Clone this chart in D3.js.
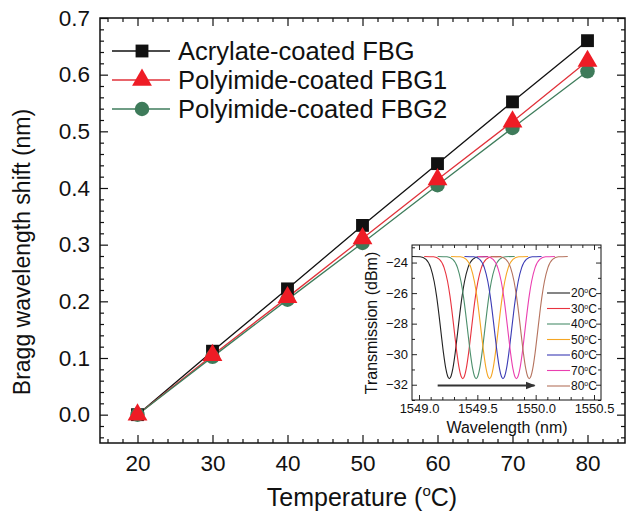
<!DOCTYPE html>
<html>
<head>
<meta charset="utf-8">
<script src="https://cdn.jsdelivr.net/npm/d3@7"></script>
<style>
  body { margin: 0; background: #fff; }
  svg { font-family: Arial, "Liberation Sans", sans-serif; }
</style>
</head>
<body>
<svg id="chart" width="626" height="516"></svg>
<script>
// main plot data
const temps = [20, 30, 40, 50, 60, 70, 80];
const acrylate = [0, 0.112, 0.222, 0.334, 0.443, 0.552, 0.660];
const polyimide1 = [0, 0.105, 0.207, 0.311, 0.415, 0.517, 0.624];
const polyimide2 = [0, 0.102, 0.203, 0.303, 0.405, 0.506, 0.606];
const seriesNames = ['Acrylate-coated FBG', 'Polyimide-coated FBG1', 'Polyimide-coated FBG2'];
const xTicks = [20, 30, 40, 50, 60, 70, 80];
const yTicks = [0.0, 0.1, 0.2, 0.3, 0.4, 0.5, 0.6, 0.7];

const dipOffset = [-0.33, -0.25, -0.2, -0.16, -0.13, -0.11, -0.09, -0.07, -0.05, -0.03, -0.015, 0,
                   0.015, 0.03, 0.05, 0.07, 0.09, 0.11, 0.13, 0.16, 0.2, 0.25, 0.33];
const dipLevel = [-23.6, -23.62, -23.79, -24.33, -25.24, -26.17, -27.34, -28.65, -29.93, -30.95, -31.43, -31.6,
                  -31.43, -30.95, -29.93, -28.65, -27.34, -26.17, -25.24, -24.33, -23.79, -23.62, -23.6];
const specTemps = ['20', '30', '40', '50', '60', '70', '80'];
const dipCentre = [1549.26, 1549.375, 1549.49, 1549.605, 1549.72, 1549.835, 1549.945];
const insetXTicks = [1549.0, 1549.5, 1550.0, 1550.5];
const insetYTicks = [-32, -30, -28, -26, -24];

const svg = d3.select('#chart');

const x = d3.scaleLinear().domain([15, 85]).range([100, 625]);
const y = d3.scaleLinear().domain([-0.05, 0.7]).range([443, 18]);

function fmt1(d) { return d3.format('.1f')(d); }

// ticks, all pointing inward
function addTicks(g, scale, side, values, size, fmt, fontSize, pad) {
  let ax;
  if (side === 'bottom') ax = d3.axisBottom(scale);
  else if (side === 'top') ax = d3.axisTop(scale);
  else if (side === 'left') ax = d3.axisLeft(scale);
  else ax = d3.axisRight(scale);
  ax.tickValues(values).tickSizeInner(-size).tickSizeOuter(0).tickPadding(pad || 4)
    .tickFormat(fmt || (() => ''));
  g.call(ax);
  g.select('.domain').remove();
  g.selectAll('line').attr('stroke', '#111').attr('stroke-width', 1.2);
  g.selectAll('text').attr('fill', '#111').style('font-size', (fontSize || 10) + 'px')
    .attr('font-family', 'Arial, "Liberation Sans", sans-serif');
}

const xMinor = d3.range(16, 85, 2).filter(v => v % 10 !== 0);
const yMinor = d3.range(-0.04, 0.7, 0.02).map(v => +v.toFixed(2)).filter(v => Math.abs(v * 10 - Math.round(v * 10)) > 1e-6);

const gBottom = svg.append('g').attr('transform', 'translate(0,443)');
addTicks(gBottom.append('g'), x, 'bottom', xTicks, 8, d3.format('d'), 22.5, 12);
addTicks(gBottom.append('g'), x, 'bottom', xMinor, 4);
const gTop = svg.append('g').attr('transform', 'translate(0,18)');
addTicks(gTop.append('g'), x, 'top', xTicks, 8);
addTicks(gTop.append('g'), x, 'top', xMinor, 4);
const gLeft = svg.append('g').attr('transform', 'translate(100,0)');
addTicks(gLeft.append('g'), y, 'left', yTicks, 8, fmt1, 22.5, 10);
addTicks(gLeft.append('g'), y, 'left', yMinor, 4);
const gRight = svg.append('g').attr('transform', 'translate(625,0)');
addTicks(gRight.append('g'), y, 'right', yTicks, 8);
addTicks(gRight.append('g'), y, 'right', yMinor, 4);

svg.append('rect')
  .attr('x', 100).attr('y', 18).attr('width', 525).attr('height', 425)
  .attr('fill', 'none').attr('stroke', '#111').attr('stroke-width', 1.5);

// axis titles
svg.append('text')
  .attr('transform', 'translate(30,252) rotate(-90)')
  .attr('text-anchor', 'middle')
  .style('font-size', '23px').attr('fill', '#111')
  .text('Bragg wavelength shift (nm)');

const xt = svg.append('text')
  .attr('x', 362).attr('y', 506)
  .attr('text-anchor', 'middle')
  .style('font-size', '25px').attr('fill', '#111');
xt.append('tspan').text('Temperature (');
xt.append('tspan').text('o').style('font-size', '15px').attr('dy', -10);
xt.append('tspan').text('C)').attr('dy', 10);

// series
const series = [
  { name: seriesNames[0], values: acrylate, line: '#111', fill: '#111', symbol: d3.symbolSquare, size: 165 },
  { name: seriesNames[1], values: polyimide1, line: '#e0323a', fill: '#ee1c25', symbol: d3.symbolTriangle, size: 170 },
  { name: seriesNames[2], values: polyimide2, line: '#3f7d5c', fill: '#3e7b5a', symbol: d3.symbolCircle, size: 165 }
];

const line = d3.line().x((d, i) => x(temps[i])).y(d => y(d));

svg.selectAll('.series-line')
  .data(series)
  .enter()
  .append('path')
  .attr('class', 'series-line')
  .attr('d', s => line(s.values))
  .attr('fill', 'none')
  .attr('stroke', s => s.line)
  .attr('stroke-width', 1.3);

// markers: black, then green, red on top
[series[0], series[2], series[1]].forEach(s => {
  svg.append('g').selectAll('path')
    .data(s.values)
    .enter()
    .append('path')
    .attr('transform', (d, i) => `translate(${x(temps[i])},${y(d)})`)
    .attr('d', d3.symbol().type(s.symbol).size(s.size))
    .attr('fill', s.fill);
});

// legend
const legendRows = [51, 80, 109];
series.forEach((s, i) => {
  const g = svg.append('g').attr('transform', `translate(0,${legendRows[i]})`);
  g.append('line').attr('x1', 112).attr('x2', 170).attr('y1', 0).attr('y2', 0)
    .attr('stroke', s.line).attr('stroke-width', 1.3);
  g.append('path').attr('transform', 'translate(142,0)')
    .attr('d', d3.symbol().type(s.symbol).size(s.size)).attr('fill', s.fill);
  g.append('text').attr('x', 178).attr('y', 0).attr('dy', '0.36em')
    .style('font-size', '25.5px').attr('fill', '#111').text(s.name);
});

// ---------- inset ----------
const ix = d3.scaleLinear().domain([1548.94, 1550.56]).range([412, 601]);
const iy = d3.scaleLinear().domain([-33.0, -22.85]).range([400, 245]);
const specColors = ['#222222', '#e8333f', '#4c8f6c', '#f5a623', '#3b3bb5', '#ea3fb0', '#b5735e'];

const inset = svg.append('g').attr('class', 'inset');
inset.append('rect').attr('x', 412).attr('y', 245).attr('width', 189).attr('height', 155).attr('fill', '#fff');

inset.append('clipPath').attr('id', 'inset-clip')
  .append('rect').attr('x', 412).attr('y', 245).attr('width', 189).attr('height', 155);

const specLine = d3.line().x(d => ix(d[0])).y(d => iy(d[1])).curve(d3.curveMonotoneX);
inset.append('g').attr('clip-path', 'url(#inset-clip)')
  .selectAll('path')
  .data(dipCentre)
  .enter()
  .append('path')
  .attr('d', c => specLine(dipOffset.map((o, i) => [c + o, dipLevel[i]])))
  .attr('fill', 'none')
  .attr('stroke', (c, i) => specColors[i])
  .attr('stroke-width', 1.1);

// arrow
inset.append('defs').append('marker')
  .attr('id', 'arrowhead').attr('viewBox', '0 0 10 10')
  .attr('refX', 9).attr('refY', 5)
  .attr('markerWidth', 5).attr('markerHeight', 5)
  .attr('orient', 'auto')
  .append('path').attr('d', 'M0,1 L10,5 L0,9 z').attr('fill', '#333');
inset.append('line')
  .attr('x1', ix(1549.16)).attr('x2', ix(1549.99))
  .attr('y1', iy(-32.05)).attr('y2', iy(-32.05))
  .attr('stroke', '#333').attr('stroke-width', 2)
  .attr('marker-end', 'url(#arrowhead)');

const ixMinor = d3.range(1549.1, 1550.55, 0.1).map(v => +v.toFixed(1)).filter(v => Math.abs(v * 2 - Math.round(v * 2)) > 1e-6);
const iyMinor = d3.range(-33, -22.8, 1).filter(v => v % 2 !== 0);

const ib = inset.append('g').attr('transform', 'translate(0,400)');
addTicks(ib.append('g'), ix, 'bottom', insetXTicks, 5, d3.format('.1f'), 13, 4);
addTicks(ib.append('g'), ix, 'bottom', ixMinor, 3);
const it = inset.append('g').attr('transform', 'translate(0,245)');
addTicks(it.append('g'), ix, 'top', insetXTicks, 5);
addTicks(it.append('g'), ix, 'top', ixMinor, 3);
const il = inset.append('g').attr('transform', 'translate(412,0)');
addTicks(il.append('g'), iy, 'left', insetYTicks, 5, d3.format('d'), 13, 4);
addTicks(il.append('g'), iy, 'left', iyMinor, 3);
const ir = inset.append('g').attr('transform', 'translate(601,0)');
addTicks(ir.append('g'), iy, 'right', insetYTicks, 5);
addTicks(ir.append('g'), iy, 'right', iyMinor, 3);
inset.selectAll('.tick line').attr('stroke-width', 0.9);

inset.append('rect').attr('x', 412).attr('y', 245).attr('width', 189).attr('height', 155)
  .attr('fill', 'none').attr('stroke', '#111').attr('stroke-width', 1);

inset.append('text')
  .attr('transform', 'translate(377,323) rotate(-90)')
  .attr('text-anchor', 'middle')
  .style('font-size', '16px').attr('fill', '#111')
  .text('Transmission (dBm)');
inset.append('text')
  .attr('x', 507).attr('y', 433)
  .attr('text-anchor', 'middle')
  .style('font-size', '16px').attr('fill', '#111')
  .text('Wavelength (nm)');

// inset legend
const insetRows = d3.scaleLinear().domain([0, 6]).range([293, 386]);
specTemps.forEach((t, i) => {
  const ry = insetRows(i);
  inset.append('line').attr('x1', 547).attr('x2', 570).attr('y1', ry).attr('y2', ry)
    .attr('stroke', specColors[i]).attr('stroke-width', 1.1);
  const tx = inset.append('text').attr('x', 571).attr('y', ry).attr('dy', '0.36em')
    .style('font-size', '12px').attr('fill', '#111');
  tx.append('tspan').text(t);
  tx.append('tspan').text('o').style('font-size', '7px').attr('dy', -4);
  tx.append('tspan').text('C').attr('dy', 4);
});
</script>
</body>
</html>
